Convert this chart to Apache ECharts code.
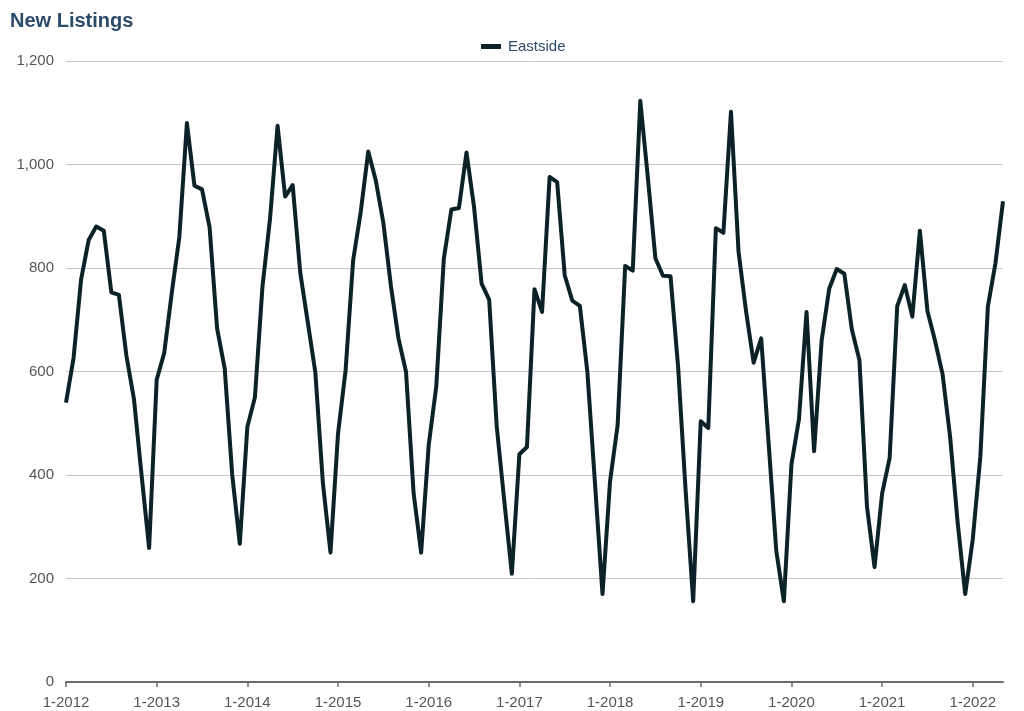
<!DOCTYPE html>
<html>
<head>
<meta charset="utf-8">
<script src="https://cdn.jsdelivr.net/npm/echarts@6/dist/echarts.min.js"></script>
<style>
html,body{margin:0;padding:0;background:#fff;}
#chart{width:1024px;height:711px;}
</style>
</head>
<body>
<div id="chart"></div>
<script>
// Monthly New Listings, Eastside (Jan 2012 - May 2022)
const years = [2012, 2013, 2014, 2015, 2016, 2017, 2018, 2019, 2020, 2021, 2022];
const v2012 = [540, 626, 778, 854, 880, 872, 753, 748, 630, 546, 400, 259];
const v2013 = [584, 636, 752, 860, 1080, 959, 952, 879, 683, 606, 400, 267];
const v2014 = [493, 550, 764, 895, 1075, 938, 960, 791, 695, 598, 384, 250];
const v2015 = [480, 602, 815, 908, 1025, 969, 887, 765, 664, 599, 365, 250];
const v2016 = [458, 571, 818, 913, 916, 1023, 918, 770, 739, 494, 350, 209];
const v2017 = [440, 454, 759, 715, 976, 966, 786, 737, 727, 599, 385, 170];
const v2018 = [388, 496, 804, 795, 1123, 975, 819, 785, 784, 610, 370, 156];
const v2019 = [504, 491, 877, 868, 1102, 832, 716, 617, 664, 458, 253, 156];
const v2020 = [420, 508, 715, 446, 660, 760, 798, 789, 681, 622, 339, 222];
const v2021 = [364, 433, 726, 767, 706, 872, 717, 660, 595, 474, 308, 170];
const v2022 = [276, 435, 726, 809, 929];
const seriesName = 'Eastside';
const yTicks = [0, 200, 400, 600, 800, 1000, 1200];

const yearValues = [v2012, v2013, v2014, v2015, v2016, v2017, v2018, v2019, v2020, v2021, v2022];
const categories = [];
const values = [];
yearValues.forEach((arr, i) => {
  arr.forEach((v, m) => {
    categories.push((m + 1) + '-' + years[i]);
    values.push(v);
  });
});

const chart = echarts.init(document.getElementById('chart'));
const FONT = '"Liberation Sans", Arial, sans-serif';
chart.setOption({
  animation: false,
  backgroundColor: '#ffffff',
  title: {
    text: 'New Listings',
    left: 5,
    top: 6,
    textStyle: { fontFamily: FONT, fontSize: 20, fontWeight: 'bold', color: '#2c4a6a' }
  },
  legend: {
    data: [seriesName],
    left: 476,
    top: 34,
    icon: 'rect',
    itemWidth: 20,
    itemHeight: 5,
    itemGap: 10,
    textStyle: { fontFamily: FONT, fontSize: 15, color: '#2c4a6a', padding: [0, 0, 0, 2] }
  },
  grid: { left: 66, right: 21, top: 61, bottom: 29, containLabel: false },
  xAxis: {
    type: 'category',
    data: categories,
    boundaryGap: false,
    axisLine: { lineStyle: { color: '#6b6b6b', width: 2 } },
    axisTick: {
      show: true,
      length: 5,
      lineStyle: { color: '#6b6b6b', width: 1.5 },
      interval: (idx) => idx % 12 === 0
    },
    axisLabel: {
      fontFamily: FONT,
      fontSize: 15,
      color: '#555555',
      margin: 13,
      interval: (idx) => idx % 12 === 0
    },
    splitLine: { show: false }
  },
  yAxis: {
    type: 'value',
    min: yTicks[0],
    max: yTicks[yTicks.length - 1],
    interval: 200,
    axisLine: { show: false },
    axisTick: { show: false },
    axisLabel: { fontFamily: FONT, fontSize: 15, color: '#555555', margin: 12 },
    splitLine: { lineStyle: { color: '#c6c6c6', width: 1 } }
  },
  series: [{
    name: seriesName,
    type: 'line',
    data: values,
    showSymbol: false,
    symbol: 'none',
    lineStyle: { color: '#0c2228', width: 4, join: 'round' },
    itemStyle: { color: '#0c2228' }
  }]
});
</script>
</body>
</html>
